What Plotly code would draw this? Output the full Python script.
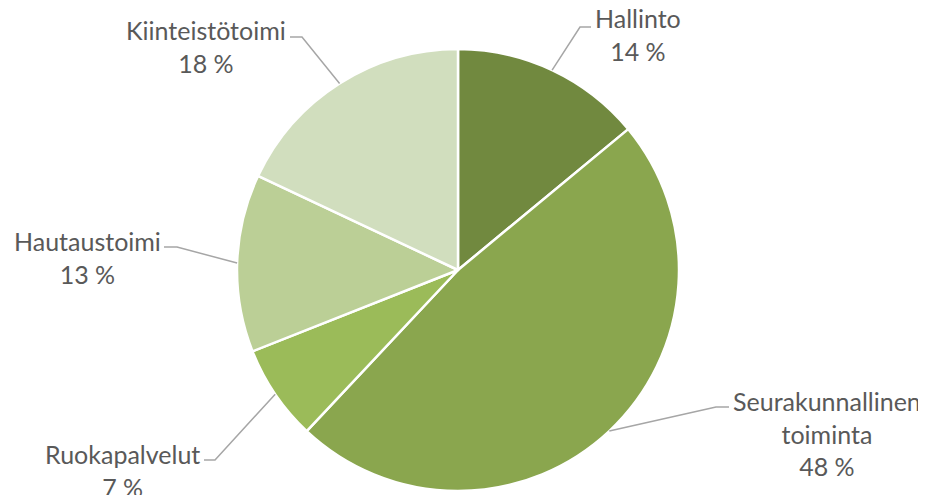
import math
import plotly.graph_objects as go

# ---- data ----
categories = ["Hallinto", "Seurakunnallinen toiminta", "Ruokapalvelut", "Hautaustoimi", "Kiinteistötoimi"]
label_lines = ["Hallinto", "Seurakunnallinen<br>toiminta", "Ruokapalvelut", "Hautaustoimi", "Kiinteistötoimi"]
shares = [14, 48, 7, 13, 18]
colors = ["#71893F", "#8AA64E", "#9BBB59", "#BBCF96", "#D1DEBE"]

# ---- layout (pixel geometry in the 926x495 window) ----
W, H = 926, 495
PAGE_OFF = 8  # default body margin of the html page
FW, FH = W - PAGE_OFF, H - PAGE_OFF
CX, CY, R = 458, 270, 221
# label text centre and leader elbow / end, in pixels
label_pos = [(638, 35), (827, 433), (122, 470), (87, 257), (206, 46)]
elbows = [((580, 27), (591, 27)),
          ((716, 407), (729, 407)),
          ((215, 460), (204, 460)),
          ((177, 247), (164, 247)),
          ((302, 37), (290, 37))]

def px(x):
    return (x - PAGE_OFF) / FW

def py(y):
    return 1 - (y - PAGE_OFF) / FH

fig = go.Figure()
fig.add_trace(go.Pie(
    labels=categories, values=shares, sort=False, direction="clockwise", rotation=0,
    marker=dict(colors=colors, line=dict(color="white", width=2.5)),
    textinfo="none", hoverinfo="label+percent", showlegend=False,
    domain=dict(x=[px(CX - R), px(CX + R)], y=[py(CY + R), py(CY - R)]),
))

total = sum(shares)
cum = 0
shapes = []
annotations = []
for i, v in enumerate(shares):
    mid = (cum + v / 2) / total * 2 * math.pi
    cum += v
    sx = CX + R * math.sin(mid)
    sy = CY - R * math.cos(mid)
    (ex, ey), (hx, hy) = elbows[i]
    path = f"M {px(sx)},{py(sy)} L {px(ex)},{py(ey)} L {px(hx)},{py(hy)}"
    shapes.append(dict(type="path", path=path, xref="paper", yref="paper",
                       line=dict(color="#A6A6A6", width=1.5)))
    tx, ty = label_pos[i]
    annotations.append(dict(
        x=px(tx), y=py(ty), xref="paper", yref="paper", xanchor="center", yanchor="middle",
        text=f"{label_lines[i]}<br>{v} %", showarrow=False, align="center",
        font=dict(family="Lato", size=25, color="#595959"),
    ))

fig.update_layout(
    width=FW, height=FH, autosize=False,
    margin=dict(l=0, r=0, t=0, b=0),
    paper_bgcolor="white", plot_bgcolor="white",
    shapes=shapes, annotations=annotations,
)
fig.write_html("out.html")
